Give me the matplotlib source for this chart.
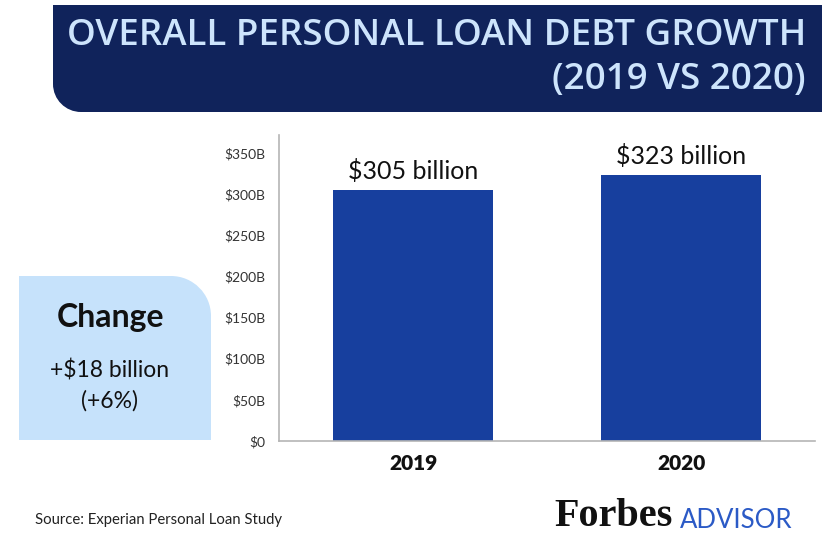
import matplotlib
matplotlib.use("Agg")
import matplotlib.pyplot as plt
from matplotlib.patches import PathPatch
from matplotlib.path import Path

years = ["2019", "2020"]
debt_billions = [305, 323]
bar_labels = ["$305 billion", "$323 billion"]
y_ticks = [0, 50, 100, 150, 200, 250, 300, 350]
y_tick_labels = ["$0", "$50B", "$100B", "$150B", "$200B", "$250B", "$300B", "$350B"]
title_lines = ["OVERALL PERSONAL LOAN DEBT GROWTH", "(2019 VS 2020)"]
change_title = "Change"
change_lines = ["+$18 billion", "(+6%)"]
source_text = "Source: Experian Personal Loan Study"

W, H = 840, 549
fig = plt.figure(figsize=(W / 100, H / 100), dpi=100)
fig.patch.set_facecolor("white")

NAVY = "#10235b"
BAR = "#173f9e"
LIGHT = "#c6e2fb"


def px(x, y):
    return x / W, 1 - y / H


def rounded_shape(x0, y0, x1, y1, r, corner, color):
    k = 0.5523
    if corner == "bl":
        verts = [(x0, y0), (x1, y0), (x1, y1), (x0 + r, y1),
                 (x0 + r - r * k, y1), (x0, y1 - r + r * k), (x0, y1 - r), (x0, y0)]
        codes = [Path.MOVETO, Path.LINETO, Path.LINETO, Path.LINETO,
                 Path.CURVE4, Path.CURVE4, Path.CURVE4, Path.CLOSEPOLY]
    else:  # top-right
        verts = [(x0, y0), (x1 - r, y0), (x1 - r + r * k, y0), (x1, y0 + r - r * k),
                 (x1, y0 + r), (x1, y1), (x0, y1), (x0, y0)]
        codes = [Path.MOVETO, Path.LINETO, Path.CURVE4, Path.CURVE4,
                 Path.CURVE4, Path.LINETO, Path.LINETO, Path.CLOSEPOLY]
    verts = [px(x, y) for x, y in verts]
    patch = PathPatch(Path(verts, codes), facecolor=color, edgecolor="none",
                      transform=fig.transFigure, zorder=0)
    fig.patches.append(patch)


# Title banner
rounded_shape(53, 5, 822, 112, 28, "bl", NAVY)
fig.text(*px(806, 36), title_lines[0], ha="right", va="center", color="#cde4fc",
         fontsize=26.5, family="Open Sans", fontweight="semibold")
fig.text(*px(806, 80), title_lines[1], ha="right", va="center", color="#cde4fc",
         fontsize=26.5, family="Open Sans", fontweight="semibold")

# Change box
rounded_shape(19, 276, 211, 440, 40, "tr", LIGHT)
fig.text(*px(110, 317), change_title, ha="center", va="center", color="#111111",
         fontsize=23, family="Lato", fontweight="bold")
fig.text(*px(110, 371), change_lines[0], ha="center", va="center", color="#111111",
         fontsize=16.5, family="Lato")
fig.text(*px(110, 401), change_lines[1], ha="center", va="center", color="#111111",
         fontsize=16.5, family="Lato")

# Chart
ax = fig.add_axes([279 / W, (H - 441) / H, (815 - 279) / W, (441 - 135) / H])
x = list(range(len(years)))
ax.bar(x, debt_billions, width=0.6, color=BAR, zorder=2)
ax.set_xlim(-0.5, 1.5)
ax.set_ylim(0, 372)
ax.set_yticks(y_ticks)
ax.set_yticklabels(y_tick_labels)
ax.set_xticks(x)
ax.set_xticklabels(years)
for s in ["top", "right"]:
    ax.spines[s].set_visible(False)
for s in ["left", "bottom"]:
    ax.spines[s].set_color("#b5b5b5")
    ax.spines[s].set_linewidth(1.2)
ax.tick_params(axis="y", length=0, pad=10, labelsize=10, labelcolor="#333333")
ax.tick_params(axis="x", length=0, pad=9, labelsize=15, labelcolor="#111111")
for lab in ax.get_yticklabels():
    lab.set_family("Lato")
for lab in ax.get_xticklabels():
    lab.set_family("Lato")
    lab.set_fontweight("heavy")

for xi, v, lbl in zip(x, debt_billions, bar_labels):
    ax.annotate(lbl, (xi, v), xytext=(0, 5), textcoords="offset points",
                ha="center", va="bottom", fontsize=18, family="Lato", color="#111111")

# Footer
fig.text(*px(35, 520), source_text, ha="left", va="center", fontsize=10.7,
         family="Lato", color="#222222")
fig.text(*px(673, 517), "Forbes", ha="right", va="center", fontsize=29,
         family="Liberation Serif", fontweight="bold", color="#111111")
fig.text(*px(680, 521), "ADVISOR", ha="left", va="center", fontsize=18.5,
         family="Lato", color="#2b5ac6")

fig.savefig("out.png", dpi=100, facecolor="white")
